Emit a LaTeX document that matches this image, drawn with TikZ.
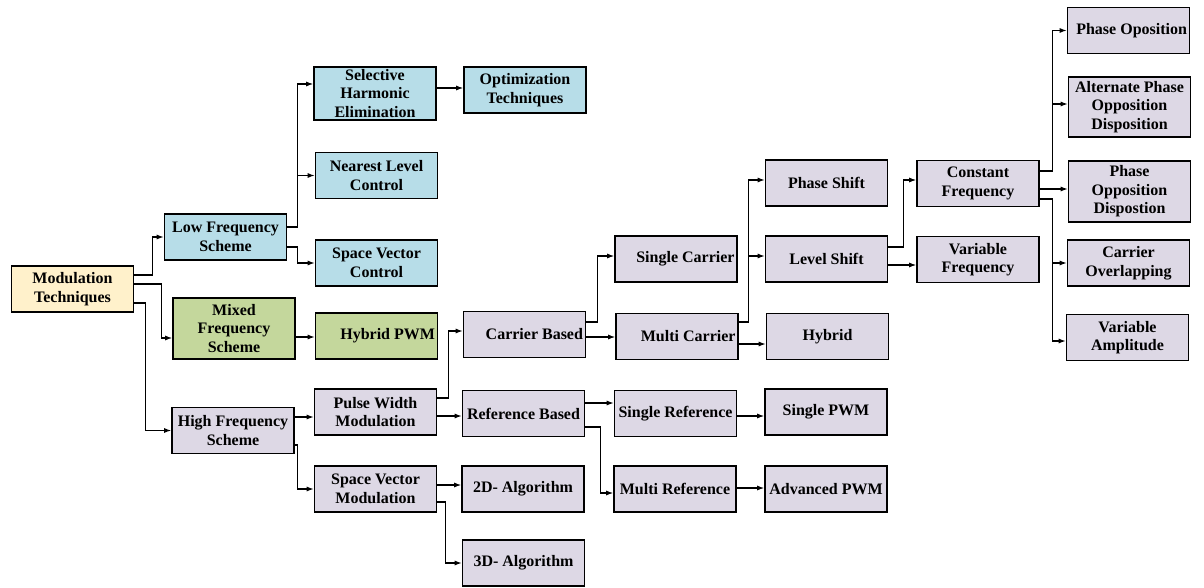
\documentclass[tikz,border=0pt]{standalone}
\usepackage{fontspec}
\setmainfont{Liberation Serif}
\usepackage{xcolor}
\usepackage{tikz}
\usetikzlibrary{arrows.meta, positioning}

\definecolor{rootyellow}{HTML}{FFF1CB}
\definecolor{lowblue}{HTML}{B7DDE8}
\definecolor{mixgreen}{HTML}{C4D79C}
\definecolor{highlilac}{HTML}{DDD8E5}

\begin{document}
\begin{tikzpicture}[
      x=1pt, y=-1pt,
      every node/.style={rectangle, draw, line width=1.6pt, minimum width=122pt,
        minimum height=46pt, inner sep=1pt, align=center, fill=highlilac,
        font=\fontsize{16}{18.5}\selectfont\bfseries},
      root/.style={fill=rootyellow},
      low/.style={fill=lowblue},
      mixed/.style={fill=mixgreen},
      rtext/.style={text width=117pt, align=flush right},
      conn/.style={-{Latex[length=7pt,width=5pt]}, line width=1.2pt}
    ]
      \useasboundingbox (0,0) rectangle (1204,588);

      \node[root] (mt) at (72.5,289) {Modulation\\Techniques};

      \node[low] (lfs) at (225.5,237) {Low Frequency\\Scheme};
      \node[mixed, minimum height=61pt] (mfs) at (234,328.5) {Mixed\\Frequency\\Scheme};
      \node (hfs) at (233,430.5) {High Frequency\\Scheme};

      \node[low, minimum height=53pt] (she) at (375,93.5) {Selective\\Harmonic\\Elimination};
      \node[low] (ot) at (525,90) {Optimization\\Techniques};
      \node[low] (nlc) at (376.5,175.5) {Nearest Level\\Control};
      \node[low] (svc) at (376.5,263) {Space Vector\\Control};
      \node[mixed, rtext] (hpwm) at (376.5,336) {Hybrid PWM};

      \node (pwm) at (375.5,412) {Pulse Width\\Modulation};
      \node (svm) at (375.5,489) {Space Vector\\Modulation};
      \node[rtext] (cb) at (524.5,334.5) {Carrier Based};
      \node (rb) at (523.5,413.5) {Reference Based};
      \node (alg2) at (523,489) {2D- Algorithm};
      \node (alg3) at (523.5,563) {3D- Algorithm};

      \node[rtext] (sc) at (676,259) {Single Carrier};
      \node[rtext] (mc) at (677,336.5) {Multi Carrier};
      \node (sr) at (675.5,413.5) {Single Reference};
      \node (mr) at (675,489) {Multi Reference};

      \node (ps) at (826.5,183) {Phase Shift};
      \node (ls) at (826.5,259) {Level Shift};
      \node (hyb) at (827.5,336.5) {Hybrid};
      \node (spwm) at (826,412) {Single PWM};
      \node (apwm) at (826,489) {Advanced PWM};

      \node (cf) at (978,183.5) {Constant\\Frequency};
      \node (vf) at (978,259.5) {Variable\\Frequency};

      \node[rtext] (po) at (1128.5,30.5) {Phase Oposition};
      \node[minimum height=60pt] (apod) at (1129.5,107) {Alternate Phase\\Opposition\\Disposition};
      \node[minimum height=61pt] (pod) at (1129.5,191.5) {Phase\\Opposition\\Dispostion};
      \node (co) at (1128.5,263) {Carrier\\Overlapping};
      \node (va) at (1127.5,337.5) {Variable\\Amplitude};

      \draw[conn] (mt.east |- 0,275) -- ++(18,0) |- (lfs);
      \draw[conn] (mt.east |- 0,284) -- ++(27,0) |- (mfs.west |- 0,338);
      \draw[conn] (mt.east |- 0,303) -- ++(11,0) |- (hfs);

      \draw[conn] (lfs.east |- 0,227) -- ++(10,0) coordinate (lfsup) |- (she.west |- 0,84);
      \draw[conn] (lfsup) |- (nlc);
      \draw[conn] (lfs.east |- 0,247) -- ++(10,0) |- (svc);
      \draw[conn] (she.east |- 0,88) -- (ot.west |- 0,88);
      \draw[conn] (mfs.east |- 0,337) -- (hpwm.west |- 0,337);

      \draw[conn] (hfs.east |- 0,417) -- (pwm.west |- 0,417);
      \draw[conn] (hfs.east |- 0,445) -- ++(3,0) |- (svm);
      \draw[conn] (pwm.east |- 0,398) -- ++(11,0) |- (cb.west |- 0,331);
      \draw[conn] (pwm.east |- 0,416) -- (rb.west |- 0,416);
      \draw[conn] (svm.east |- 0,485) -- (alg2.west |- 0,485);
      \draw[conn] (svm.east |- 0,502) -- ++(8,0) |- (alg3);

      \draw[conn] (cb.east |- 0,322) -- ++(11,0) |- (sc.west |- 0,256);
      \draw[conn] (cb.east |- 0,337) -- (mc.west |- 0,337);
      \draw[conn] (rb.east |- 0,403) -- (sr.west |- 0,403);
      \draw[conn] (rb.east |- 0,427) -- ++(15,0) |- (mr.west |- 0,493);

      \draw[conn] (mc.east |- 0,322) -- ++(10,0) coordinate (mcup) |- (ps.west |- 0,180);
      \draw[conn] (mcup) |- (ls.west |- 0,256);
      \draw[conn] (mc.east |- 0,344) -- (hyb.west |- 0,344);
      \draw[conn] (sr.east |- 0,416) -- (spwm.west |- 0,416);
      \draw[conn] (mr.east |- 0,488) -- (apwm.west |- 0,488);

      \draw[conn] (ls.east |- 0,247) -- ++(15,0) |- (cf.west |- 0,180);
      \draw[conn] (ls.east |- 0,265) -- (vf.west |- 0,265);
      \draw[conn] (cf.east |- 0,171) -- ++(13,0) coordinate (cfup) |- (po);
      \draw[conn] (cfup) |- (apod.west |- 0,104);
      \draw[conn] (cf.east |- 0,189) -- (pod.west |- 0,189);
      \draw[conn] (cf.east |- 0,199) -- ++(13,0) coordinate (cfdown) |- (co);
      \draw[conn] (cfdown) |- (va.west |- 0,341);
    \end{tikzpicture}
\end{document}
